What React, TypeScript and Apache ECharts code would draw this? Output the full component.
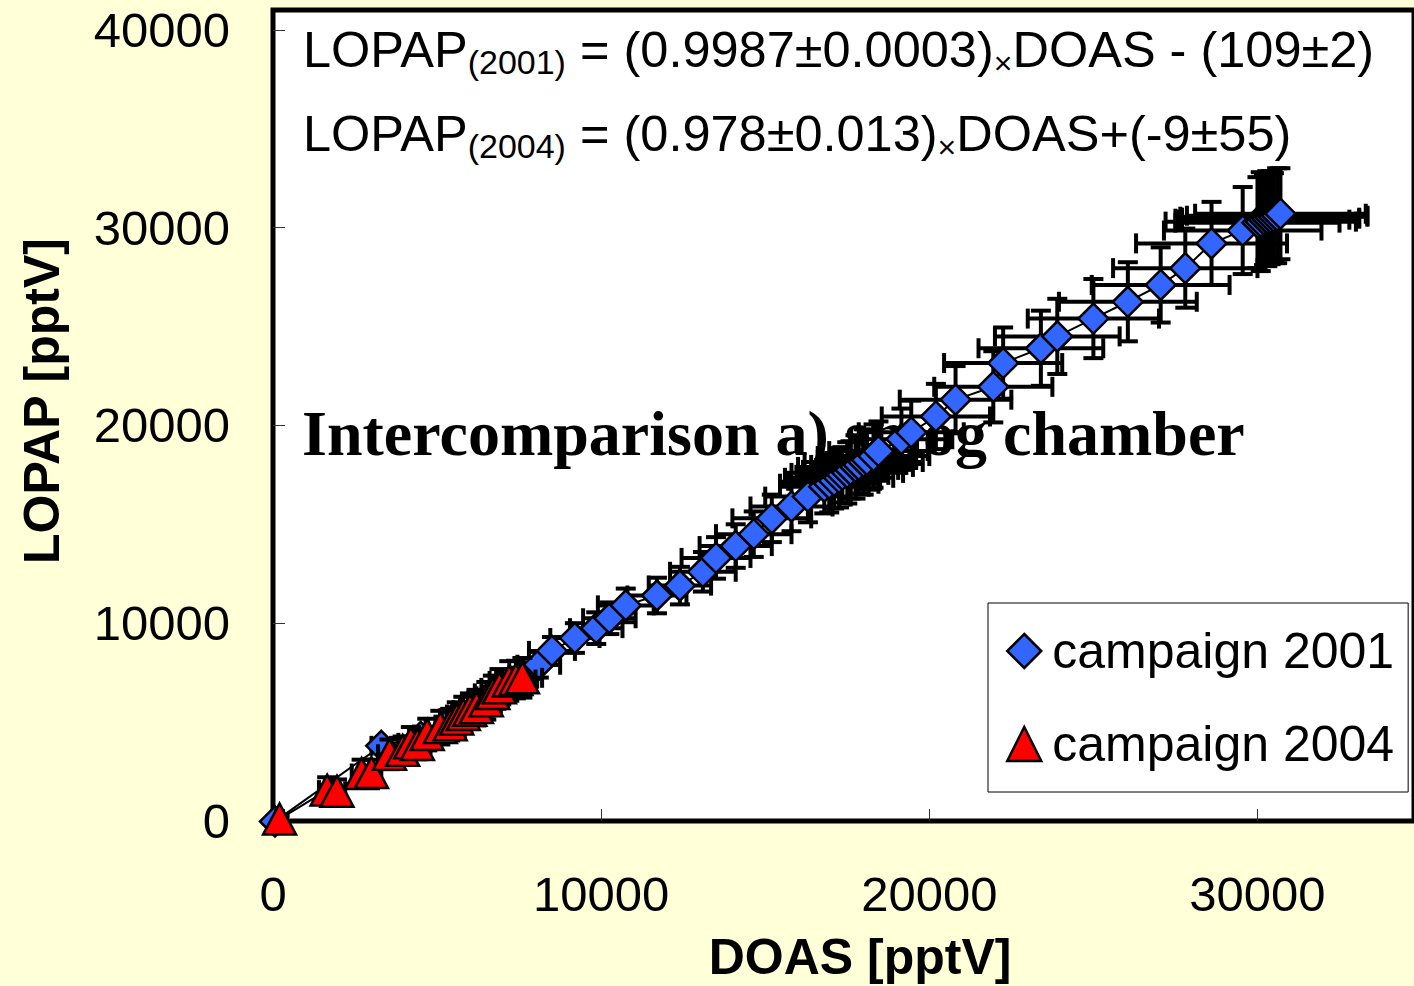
import React, { useEffect, useRef } from 'react';
import * as echarts from 'echarts';

// ---- Data (pptV) ----
const doas2001 = [60, 3300, 4500, 5500, 6700, 7500, 8100, 8500, 9200, 9850, 10250, 10750, 11700, 12400, 13100, 13500, 14100, 14650, 15200, 15800, 16300, 16800, 16950, 17100, 17250, 17350, 17500, 17600, 17750, 17850, 18000, 18100, 18300, 18450, 19150, 19450, 20200, 20800, 21950, 22250, 23400, 23900, 25000, 26050, 27050, 27800, 28600, 29550, 30000, 30100, 30200, 30300, 30400, 30500, 30600, 30700];
const lopap2001 = [-20, 3800, 4250, 5200, 6300, 7200, 7900, 8600, 9250, 9750, 10250, 10900, 11400, 11900, 12600, 13300, 13900, 14500, 15300, 15900, 16400, 16900, 17050, 17200, 17350, 17500, 17600, 17750, 17900, 18000, 18150, 18250, 18450, 18700, 19300, 19650, 20450, 21300, 21950, 23150, 23900, 24500, 25400, 26250, 27100, 27950, 29200, 29850, 30250, 30300, 30400, 30450, 30500, 30550, 30600, 30700];
const doasErr2001 = [150, 300, 350, 400, 500, 550, 650, 700, 750, 800, 800, 850, 900, 950, 1000, 1050, 1100, 1150, 1200, 1250, 1300, 1350, 1500, 1400, 1650, 1400, 1700, 1450, 1750, 1450, 1800, 1500, 1700, 1500, 1550, 1600, 1650, 1700, 1800, 1800, 1900, 1900, 2000, 2100, 2100, 2200, 2300, 2400, 2500, 2900, 2600, 2800, 2700, 2850, 2750, 2600];
const lopapErr2001 = [150, 300, 350, 450, 500, 550, 650, 700, 750, 800, 800, 850, 900, 950, 1000, 1050, 1100, 1150, 1200, 1250, 1300, 1350, 1450, 1400, 1500, 1400, 1550, 1450, 1600, 1450, 1650, 1500, 1600, 1500, 1550, 1600, 1650, 1700, 1800, 1800, 1900, 1900, 2000, 2000, 1900, 2000, 2100, 2200, 2300, 2500, 2300, 2400, 2350, 2200, 2400, 2300];

const doas2004 = [200, 1650, 1950, 2700, 3000, 3550, 3950, 4200, 4400, 4700, 5100, 5400, 5600, 5800, 6000, 6200, 6500, 6700, 6900, 7200, 7400, 7600];
const lopap2004 = [100, 1560, 1500, 2400, 2450, 3370, 3570, 3950, 3870, 4370, 4720, 4870, 5150, 5380, 5600, 5730, 6080, 6450, 6730, 7080, 7150, 7240];
const doasErr2004 = [100, 250, 250, 300, 300, 350, 350, 380, 400, 400, 450, 450, 480, 500, 500, 500, 550, 550, 550, 600, 600, 600];
const lopapErr2004 = [150, 650, 600, 700, 650, 750, 700, 800, 750, 800, 850, 800, 850, 900, 850, 900, 950, 900, 950, 1000, 950, 1000];

const xTicks = ['0', '10000', '20000', '30000'];
const yTicks = ['0', '10000', '20000', '30000', '40000'];

const seriesNames = ['campaign 2001', 'campaign 2004'];
const equation2001 = ['LOPAP', '(2001)', ' = (0.9987±0.0003)', '×', 'DOAS - (109±2)'];
const equation2004 = ['LOPAP', '(2004)', ' = (0.978±0.013)', '×', 'DOAS+(-9±55)'];
const chartTitle = 'Intercomparison a) smog chamber';
const xTitle = 'DOAS [pptV]';
const yTitle = 'LOPAP [pptV]';

const SANS = '"Liberation Sans", Arial, sans-serif';
const SERIF = '"Liberation Serif", "Times New Roman", serif';

function zip(xs: number[], ys: number[]) {
  return xs.map((x, i) => [x, ys[i]]);
}
function zip4(xs: number[], ys: number[], ex: number[], ey: number[]) {
  return xs.map((x, i) => [x, ys[i], ex[i], ey[i]]);
}

function errRender(_params: any, api: any) {
  const x = api.value(0);
  const y = api.value(1);
  const ex = api.value(2);
  const ey = api.value(3);
  const l = api.coord([x - ex, y]);
  const r = api.coord([x + ex, y]);
  const t = api.coord([x, y + ey]);
  const b = api.coord([x, y - ey]);
  const cap = 10;
  const style = { stroke: '#000', lineWidth: 4, fill: 'none' };
  return {
    type: 'group',
    children: [
      { type: 'line', shape: { x1: l[0], y1: l[1], x2: r[0], y2: r[1] }, style },
      { type: 'line', shape: { x1: l[0], y1: l[1] - cap, x2: l[0], y2: l[1] + cap }, style },
      { type: 'line', shape: { x1: r[0], y1: r[1] - cap, x2: r[0], y2: r[1] + cap }, style },
      { type: 'line', shape: { x1: t[0], y1: t[1], x2: b[0], y2: b[1] }, style },
      { type: 'line', shape: { x1: t[0] - cap, y1: t[1], x2: t[0] + cap, y2: t[1] }, style },
      { type: 'line', shape: { x1: b[0] - cap, y1: b[1], x2: b[0] + cap, y2: b[1] }, style },
    ],
  };
}

function eqText(parts: string[]) {
  return `{m|${parts[0]}}{s|${parts[1]}}{m|${parts[2]}}{x|${parts[3]}}{m|${parts[4]}}`;
}

const eqRich = {
  m: { fontSize: 50.5, fontFamily: SANS, lineHeight: 60, fill: '#000' },
  s: { fontSize: 34, fontFamily: SANS, lineHeight: 34, verticalAlign: 'bottom', fill: '#000' },
  x: { fontSize: 32, fontFamily: SANS, lineHeight: 32, verticalAlign: 'bottom', fill: '#000' },
};

export default function App() {
  const ref = useRef<HTMLDivElement>(null);
  useEffect(() => {
    if (!ref.current) return;
    const chart = echarts.init(ref.current, null, { renderer: 'svg' });
    chart.setOption({
      animation: false,
      backgroundColor: '#FFFFD8',
      grid: {
        show: true,
        left: 273,
        top: 10,
        right: -4,
        bottom: 165,
        backgroundColor: '#ffffff',
        borderColor: '#000',
        borderWidth: 5,
        z: 0,
      },
      xAxis: {
        type: 'value',
        min: 0,
        max: 34770,
        interval: 10000,
        axisLine: { show: false },
        axisTick: { show: true, inside: true, length: 12, lineStyle: { color: '#333', width: 1 } },
        splitLine: { show: false },
        axisLabel: {
          showMaxLabel: false,
          margin: 48,
          fontSize: 49,
          fontFamily: SANS,
          color: '#000',
          formatter: (v: number) => xTicks[Math.round(v / 10000)] ?? '',
        },
      },
      yAxis: {
        type: 'value',
        min: 0,
        max: 41000,
        interval: 10000,
        axisLine: { show: false },
        axisTick: { show: true, inside: true, length: 12, lineStyle: { color: '#333', width: 1 } },
        splitLine: { show: false },
        axisLabel: {
          showMaxLabel: false,
          margin: 43,
          fontSize: 49,
          fontFamily: SANS,
          color: '#000',
          formatter: (v: number) => yTicks[Math.round(v / 10000)] ?? '',
        },
      },
      legend: {
        show: true,
        orient: 'vertical',
        left: 988,
        top: 603,
        padding: [23, 14, 23, 18],
        itemGap: 43,
        itemWidth: 34,
        itemHeight: 34,
        backgroundColor: '#fff',
        borderColor: '#000',
        borderWidth: 1,
        z: 10,
        textStyle: { fontSize: 50, fontFamily: SANS, color: '#000', padding: [0, 0, 0, 6] },
        data: [
          { name: seriesNames[0], icon: 'diamond', itemStyle: { color: '#3366FF', borderColor: '#000', borderWidth: 2.5 } },
          { name: seriesNames[1], icon: 'triangle', itemStyle: { color: '#FF0000', borderColor: '#000', borderWidth: 2.5 } },
        ],
      },
      graphic: [
        {
          type: 'text',
          z: 1,
          x: 302,
          y: 433,
          style: { text: chartTitle, font: `bold 64px ${SERIF}`, fill: '#000', verticalAlign: 'middle', align: 'left' },
        },
        {
          type: 'text',
          z: 1,
          x: 303,
          y: 49,
          style: { text: eqText(equation2001), rich: eqRich, verticalAlign: 'middle', align: 'left', fill: '#000' },
        },
        {
          type: 'text',
          z: 1,
          x: 303,
          y: 133,
          style: { text: eqText(equation2004), rich: eqRich, verticalAlign: 'middle', align: 'left', fill: '#000' },
        },
        {
          type: 'text',
          x: 860,
          y: 957,
          style: { text: xTitle, font: `bold 50px ${SANS}`, fill: '#000', align: 'center', verticalAlign: 'middle' },
        },
        {
          type: 'text',
          x: 42,
          y: 401,
          rotation: Math.PI / 2,
          style: { text: yTitle, font: `bold 50px ${SANS}`, fill: '#000', align: 'center', verticalAlign: 'middle' },
        },
      ],
      series: [
        {
          name: seriesNames[0] + ' err',
          type: 'custom',
          z: 2,
          clip: true,
          encode: { x: 0, y: 1 },
          renderItem: errRender,
          data: zip4(doas2001, lopap2001, doasErr2001, lopapErr2001),
        },
        {
          name: seriesNames[0],
          type: 'line',
          z: 3,
          clip: false,
          symbol: 'diamond',
          symbolSize: 30,
          lineStyle: { color: '#000', width: 2 },
          itemStyle: { color: '#3366FF', borderColor: '#000', borderWidth: 2.5 },
          data: zip(doas2001, lopap2001),
        },
        {
          name: seriesNames[1] + ' err',
          type: 'custom',
          z: 4,
          clip: true,
          encode: { x: 0, y: 1 },
          renderItem: errRender,
          data: zip4(doas2004, lopap2004, doasErr2004, lopapErr2004),
        },
        {
          name: seriesNames[1],
          type: 'line',
          z: 5,
          clip: false,
          symbol: 'triangle',
          symbolSize: [33, 31],
          lineStyle: { color: '#000', width: 2 },
          itemStyle: { color: '#FF0000', borderColor: '#000', borderWidth: 2.5 },
          data: zip(doas2004, lopap2004),
        },
      ],
    });
    return () => chart.dispose();
  }, []);
  return <div ref={ref} style={{ position: 'fixed', left: 0, top: 0, width: 1414, height: 986 }} />;
}
